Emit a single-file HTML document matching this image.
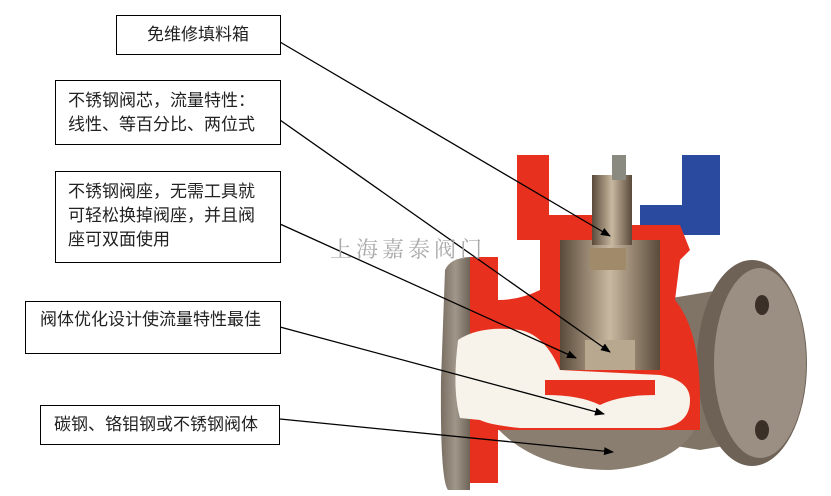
<!DOCTYPE html>
<html><head><meta charset="utf-8"><style>
html,body{margin:0;padding:0;background:#fff;width:831px;height:496px;overflow:hidden;font-family:"Liberation Sans","Noto Sans CJK SC",sans-serif}
.b{position:absolute;border:1px solid #000;background:#fff;font-size:17px;color:#222;line-height:24px;box-sizing:border-box;white-space:nowrap}
svg{position:absolute;left:0;top:0}
</style></head><body>
<svg width="831" height="496" viewBox="0 0 831 496">
<defs>
<linearGradient id="g" x1="0" x2="1"><stop offset="0" stop-color="#7a6e62"/><stop offset=".5" stop-color="#a0968a"/><stop offset="1" stop-color="#6e6458"/></linearGradient>
<linearGradient id="m" x1="0" x2="1"><stop offset="0" stop-color="#5a4a3a"/><stop offset=".5" stop-color="#c8b8a0"/><stop offset="1" stop-color="#5a4a3a"/></linearGradient>
<marker id="a" markerWidth="10" markerHeight="8" refX="9" refY="4" orient="auto" markerUnits="userSpaceOnUse"><path d="M0,0L10,4L0,8z" fill="#000"/></marker>
</defs>
<rect x="682" y="155" width="38" height="80" fill="#2a4aa0"/>
<rect x="640" y="205" width="80" height="30" fill="#2a4aa0"/>
<rect x="517" y="155" width="32" height="80" fill="#e8301e"/>
<rect x="517" y="215" width="80" height="25" fill="#e8301e"/>
<path d="M660,300 L720,290 L760,300 L760,440 L700,450 L640,440 Z" fill="#807466"/>
<ellipse cx="752" cy="363" rx="55" ry="103" fill="#6e6256"/>
<ellipse cx="760" cy="363" rx="46" ry="95" fill="#9a8f82"/>
<ellipse cx="762" cy="305" rx="7" ry="10" fill="#3a3028"/>
<ellipse cx="762" cy="430" rx="7" ry="10" fill="#3a3028"/>
<path d="M445,270 Q450,258 470,257 L470,490 L448,490 Q440,480 441,380 Z" fill="url(#g)"/>
<path d="M490,420 Q530,470 610,470 Q680,465 700,420 L700,400 L490,400 Z" fill="#8a7e70"/>
<path d="M470,257 L498,257 L498,300 Q520,300 540,290 L540,250 L540,225 L680,225 L690,250 L680,260 L675,300 Q700,330 700,400 L700,430 L600,430 L540,430 L498,430 L498,483 L470,483 Z" fill="#e8301e"/>
<path d="M458,340 Q480,325 520,330 Q545,335 560,370 L660,375 Q690,380 690,400 Q690,425 660,428 L520,428 Q490,425 480,420 L460,418 Q452,390 458,340 Z" fill="#f7f3ea"/>
<path d="M545,380 L655,380 L655,395 Q620,395 600,405 Q580,395 545,395 Z" fill="#e8301e"/>
<rect x="560" y="240" width="100" height="130" fill="url(#m)"/>
<rect x="592" y="175" width="40" height="70" fill="url(#m)"/>
<rect x="612" y="155" width="14" height="25" fill="#8a8a80"/>
<rect x="590" y="248" width="36" height="22" fill="#a08a6a"/>
<rect x="585" y="340" width="50" height="30" fill="#b8a890"/>
<g stroke="#000" stroke-width="1.3" fill="none">
<line x1="280" y1="42" x2="610" y2="236" marker-end="url(#a)"/>
<line x1="280" y1="120" x2="610" y2="352" marker-end="url(#a)"/>
<line x1="280" y1="224" x2="576" y2="358" marker-end="url(#a)"/>
<line x1="280" y1="327" x2="604" y2="414" marker-end="url(#a)"/>
<line x1="280" y1="419" x2="613" y2="452" marker-end="url(#a)"/>
</g>
<text x="330" y="257" font-family="Liberation Serif,Noto Serif CJK SC,serif" font-size="22" fill="#aaa" letter-spacing="4">上海嘉泰阀门</text>
</svg>
<div class="b" style="left:116px;top:15px;width:165px;height:40px;padding:7px 0 0 30px">免维修填料箱</div>
<div class="b" style="left:55px;top:80px;width:226px;height:65px;padding:8px 0 0 12px">不锈钢阀芯，流量特性：<br>线性、等百分比、两位式</div>
<div class="b" style="left:55px;top:171px;width:226px;height:92px;padding:8px 0 0 12px">不锈钢阀座，无需工具就<br>可轻松换掉阀座，并且阀<br>座可双面使用</div>
<div class="b" style="left:25px;top:301px;width:256px;height:53px;padding:6px 0 0 14px">阀体优化设计使流量特性最佳</div>
<div class="b" style="left:40px;top:405px;width:240px;height:40px;padding:7px 0 0 13px">碳钢、铬钼钢或不锈钢阀体</div>
</body></html>
